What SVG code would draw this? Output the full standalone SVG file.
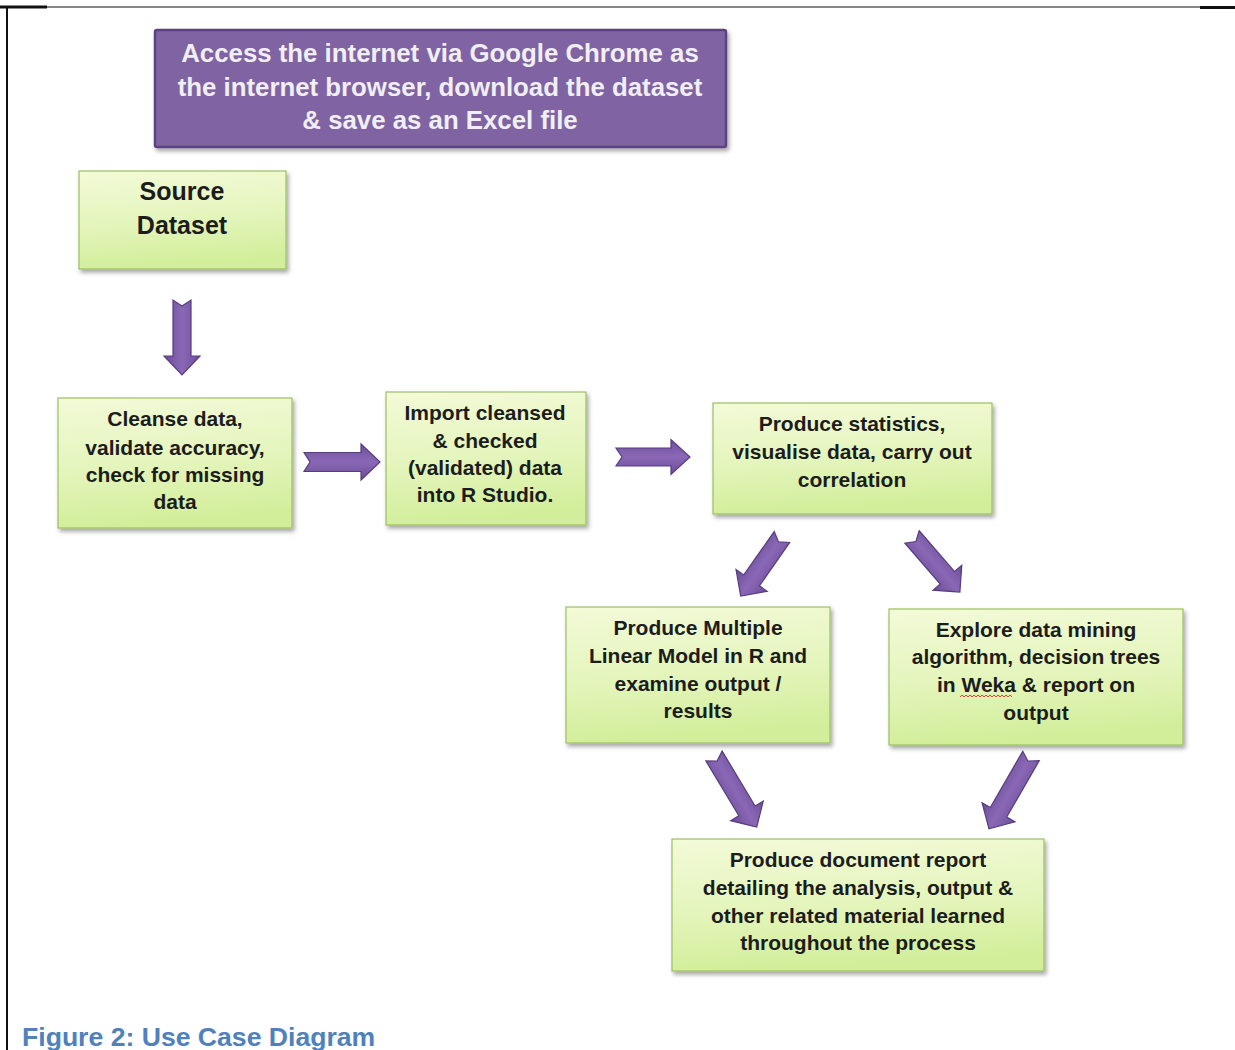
<svg xmlns="http://www.w3.org/2000/svg" width="1235" height="1050" viewBox="0 0 1235 1050">
  <style>
    .box { fill: url(#green); stroke: #9DBE63; stroke-width: 1.2; filter: url(#shadow); }
    .lbl { font-family: "Liberation Sans", Arial, sans-serif; font-weight: bold; font-size: 21px; fill: #1c1c1c; text-anchor: middle; }
    .big { font-size: 25px; }
    .head { fill: #F1EFF6; font-size: 25.8px; }
    .arrow { fill: url(#purple); stroke: #573D7E; stroke-width: 1.2; stroke-linejoin: miter; }
  </style>
  <defs>
    <linearGradient id="green" x1="0" y1="0" x2="0.15" y2="1">
      <stop offset="0" stop-color="#F3FAD8"/>
      <stop offset="0.55" stop-color="#E4F5BC"/>
      <stop offset="1" stop-color="#D2EE9A"/>
    </linearGradient>
    <linearGradient id="purple" x1="0" y1="0" x2="0" y2="1">
      <stop offset="0" stop-color="#6E4F9A"/>
      <stop offset="0.5" stop-color="#8A68B6"/>
      <stop offset="1" stop-color="#6B4C96"/>
    </linearGradient>
    <filter id="shadow" x="-10%" y="-10%" width="125%" height="130%">
      <feDropShadow dx="2" dy="3" stdDeviation="2" flood-color="#000" flood-opacity="0.35"/>
    </filter>
  </defs>

  <!-- page frame -->
  <g id="frame" stroke="#111" fill="none">
    <line x1="47" y1="7" x2="1200" y2="7" stroke-width="1"/>
    <line x1="0" y1="7" x2="47" y2="7" stroke-width="3"/>
    <line x1="1200" y1="7.5" x2="1235" y2="7.5" stroke-width="3"/>
    <line x1="7" y1="6" x2="7" y2="1050" stroke-width="2"/>
  </g>

  <!-- nodes -->
  <g id="access">
    <rect x="155" y="30" width="571" height="117" rx="2" fill="#8064A2" stroke="#5C4380" stroke-width="2.5" filter="url(#shadow)"/>
    <text class="lbl head" x="440" y="62">Access the internet via Google Chrome as</text>
    <text class="lbl head" x="440" y="96">the internet browser, download the dataset</text>
    <text class="lbl head" x="440" y="129">&amp; save as an Excel file</text>
  </g>

  <g id="source">
    <rect class="box" x="79" y="171" width="207" height="98"/>
    <text class="lbl big" x="182" y="200">Source</text>
    <text class="lbl big" x="182" y="234">Dataset</text>
  </g>

  <g id="cleanse">
    <rect class="box" x="58" y="398" width="234" height="130"/>
    <text class="lbl" x="175" y="426">Cleanse data,</text>
    <text class="lbl" x="175" y="455">validate accuracy,</text>
    <text class="lbl" x="175" y="482">check for missing</text>
    <text class="lbl" x="175" y="509">data</text>
  </g>

  <g id="import">
    <rect class="box" x="386" y="392" width="200" height="133"/>
    <text class="lbl" x="485" y="420">Import cleansed</text>
    <text class="lbl" x="485" y="448">&amp; checked</text>
    <text class="lbl" x="485" y="475">(validated) data</text>
    <text class="lbl" x="485" y="502">into R Studio.</text>
  </g>

  <g id="statistics">
    <rect class="box" x="713" y="403" width="279" height="111"/>
    <text class="lbl" x="852" y="431">Produce statistics,</text>
    <text class="lbl" x="852" y="459">visualise data, carry out</text>
    <text class="lbl" x="852" y="487">correlation</text>
  </g>

  <g id="linear-model">
    <rect class="box" x="566" y="607" width="264" height="136"/>
    <text class="lbl" x="698" y="635">Produce Multiple</text>
    <text class="lbl" x="698" y="663">Linear Model in R and</text>
    <text class="lbl" x="698" y="691">examine output /</text>
    <text class="lbl" x="698" y="718">results</text>
  </g>

  <g id="data-mining">
    <rect class="box" x="889" y="609" width="294" height="136"/>
    <text class="lbl" x="1036" y="637">Explore data mining</text>
    <text class="lbl" x="1036" y="664">algorithm, decision trees</text>
    <text class="lbl" x="1036" y="692">in Weka &amp; report on</text>
    <text class="lbl" x="1036" y="720">output</text>
    <!-- spell-check squiggle under "Weka" -->
    <path d="M960,697 l2,-2 l2,2 l2,-2 l2,2 l2,-2 l2,2 l2,-2 l2,2 l2,-2 l2,2 l2,-2 l2,2 l2,-2 l2,2 l2,-2 l2,2 l2,-2 l2,2 l2,-2 l2,2 l2,-2 l2,2 l2,-2 l2,2 l2,-2 l2,2" fill="none" stroke="#E03030" stroke-width="0.9"/>
  </g>

  <g id="report">
    <rect class="box" x="672" y="839" width="372" height="132"/>
    <text class="lbl" x="858" y="867">Produce document report</text>
    <text class="lbl" x="858" y="895">detailing the analysis, output &amp;</text>
    <text class="lbl" x="858" y="923">other related material learned</text>
    <text class="lbl" x="858" y="950">throughout the process</text>
  </g>

  <!-- connectors: notched block arrows, drawn pointing along +x then rotated -->
  <g id="connectors">
    <path class="arrow" transform="translate(182,300) rotate(90)" d="M0,-9 H56 V-18 L75,0 L56,18 V9 H0 L6,0 Z"/>
    <path class="arrow" transform="translate(304,462)" d="M0,-9.5 H57 V-18 L76,0 L57,18 V9.5 H0 L6,0 Z"/>
    <path class="arrow" transform="translate(616,457)" d="M0,-9 H55 V-17.5 L74,0 L55,17.5 V9 H0 L6,0 Z"/>
    <path class="arrow" transform="translate(782,537) rotate(125)" d="M0,-9.5 H53 V-19 L72,0 L53,19 V9.5 H0 L6,0 Z"/>
    <path class="arrow" transform="translate(912,537) rotate(49)" d="M0,-9.5 H54 V-19 L73,0 L54,19 V9.5 H0 L6,0 Z"/>
    <path class="arrow" transform="translate(714,756) rotate(59)" d="M0,-9.5 H64 V-19 L83,0 L64,19 V9.5 H0 L6,0 Z"/>
    <path class="arrow" transform="translate(1031,756) rotate(120)" d="M0,-9.5 H65 V-19 L84,0 L65,19 V9.5 H0 L6,0 Z"/>
  </g>

  <!-- caption -->
  <text id="caption" x="22" y="1046" font-family="'Liberation Sans', Arial, sans-serif" font-weight="bold" font-size="26.6px" fill="#4F81BD">Figure 2: Use Case Diagram</text>
</svg>
